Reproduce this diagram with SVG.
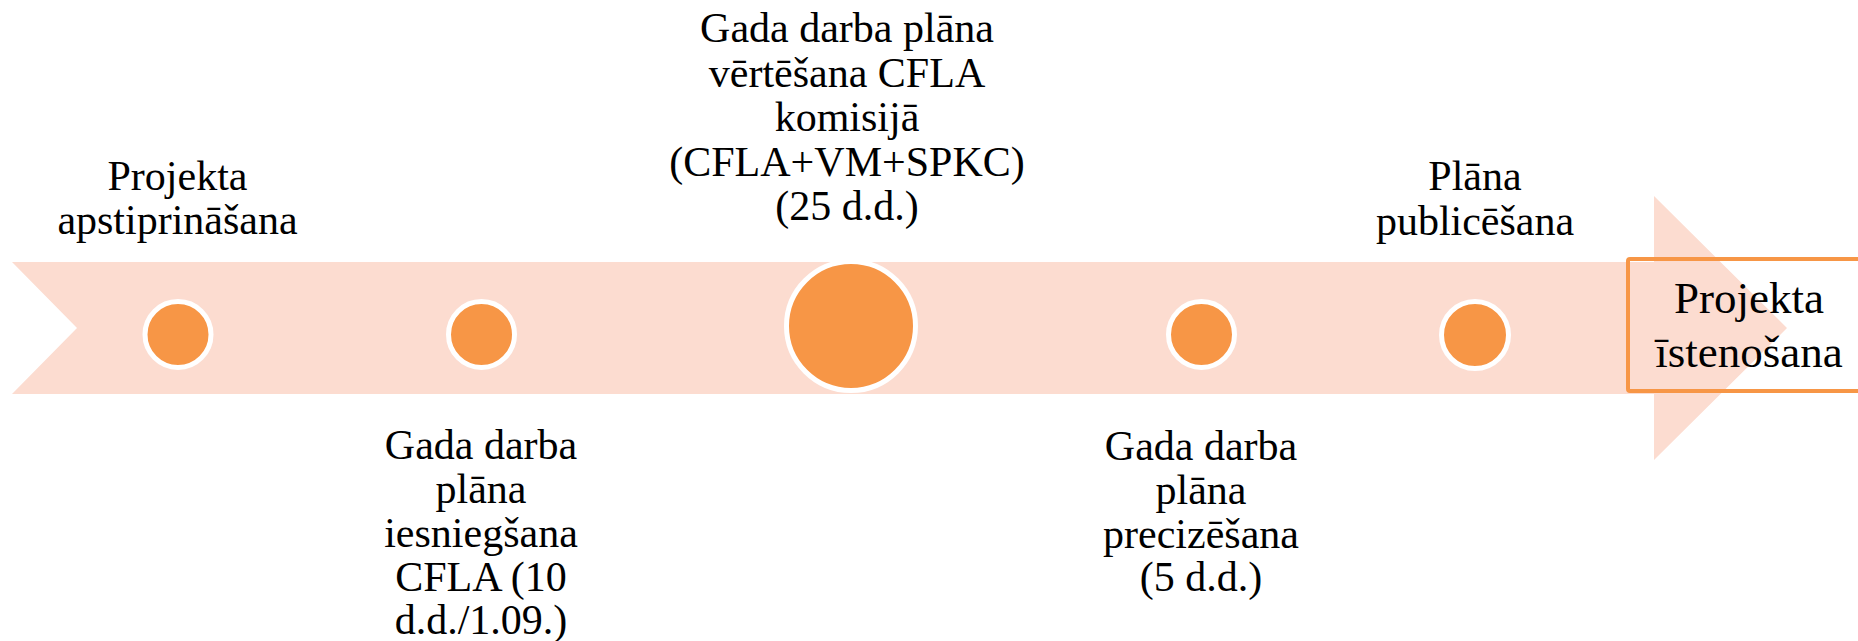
<svg xmlns="http://www.w3.org/2000/svg" width="1858" height="641" viewBox="0 0 1858 641">
<style>
.lbl{font-family:'Liberation Serif','DejaVu Serif',serif;font-size:42px;fill:#000;text-anchor:middle}
.box{font-family:'Liberation Serif','DejaVu Serif',serif;font-size:45px;fill:#000;text-anchor:middle}
.dot{fill:#F79646;stroke:#FFFFFF;stroke-width:5}
</style>
<rect width="1858" height="641" fill="#FFFFFF"/>
<g id="arrow">
<path d="M12 262 L1654 262 L1654 196 L1787 328 L1654 460 L1654 394 L12 394 L77 328 Z" fill="#FCDCD0"/>
</g>
<g id="connectors"></g>
<g id="n1">
<circle class="dot" cx="178" cy="334.5" r="33"/>
<text class="lbl" x="177.5" y="190">Projekta</text>
<text class="lbl" x="177.5" y="234">apstiprināšana</text>
</g>
<g id="n2">
<circle class="dot" cx="481.5" cy="334.5" r="33"/>
<text class="lbl" x="481" y="459">Gada darba</text>
<text class="lbl" x="481" y="503">plāna</text>
<text class="lbl" x="481" y="547">iesniegšana</text>
<text class="lbl" x="481" y="591">CFLA (10</text>
<text class="lbl" x="481" y="634">d.d./1.09.)</text>
</g>
<g id="n3">
<circle class="dot" cx="851" cy="326" r="64.5"/>
<text class="lbl" x="847" y="42">Gada darba plāna</text>
<text class="lbl" x="847" y="86.5">vērtēšana CFLA</text>
<text class="lbl" x="847" y="131">komisijā</text>
<text class="lbl" x="847" y="175.5">(CFLA+VM+SPKC)</text>
<text class="lbl" x="847" y="220">(25 d.d.)</text>
</g>
<g id="n4">
<circle class="dot" cx="1201.5" cy="334.5" r="33"/>
<text class="lbl" x="1201" y="460">Gada darba</text>
<text class="lbl" x="1201" y="504">plāna</text>
<text class="lbl" x="1201" y="548">precizēšana</text>
<text class="lbl" x="1201" y="591">(5 d.d.)</text>
</g>
<g id="n5">
<circle class="dot" cx="1475" cy="335" r="33.5"/>
<text class="lbl" x="1475" y="190">Plāna</text>
<text class="lbl" x="1475" y="235">publicēšana</text>
</g>
<g id="n6">
<rect x="1628" y="259" width="250" height="132" fill="none" stroke="#F79646" stroke-width="4" rx="2"/>
<text class="box" x="1749" y="313">Projekta</text>
<text class="box" x="1749" y="367">īstenošana</text>
</g>
</svg>
